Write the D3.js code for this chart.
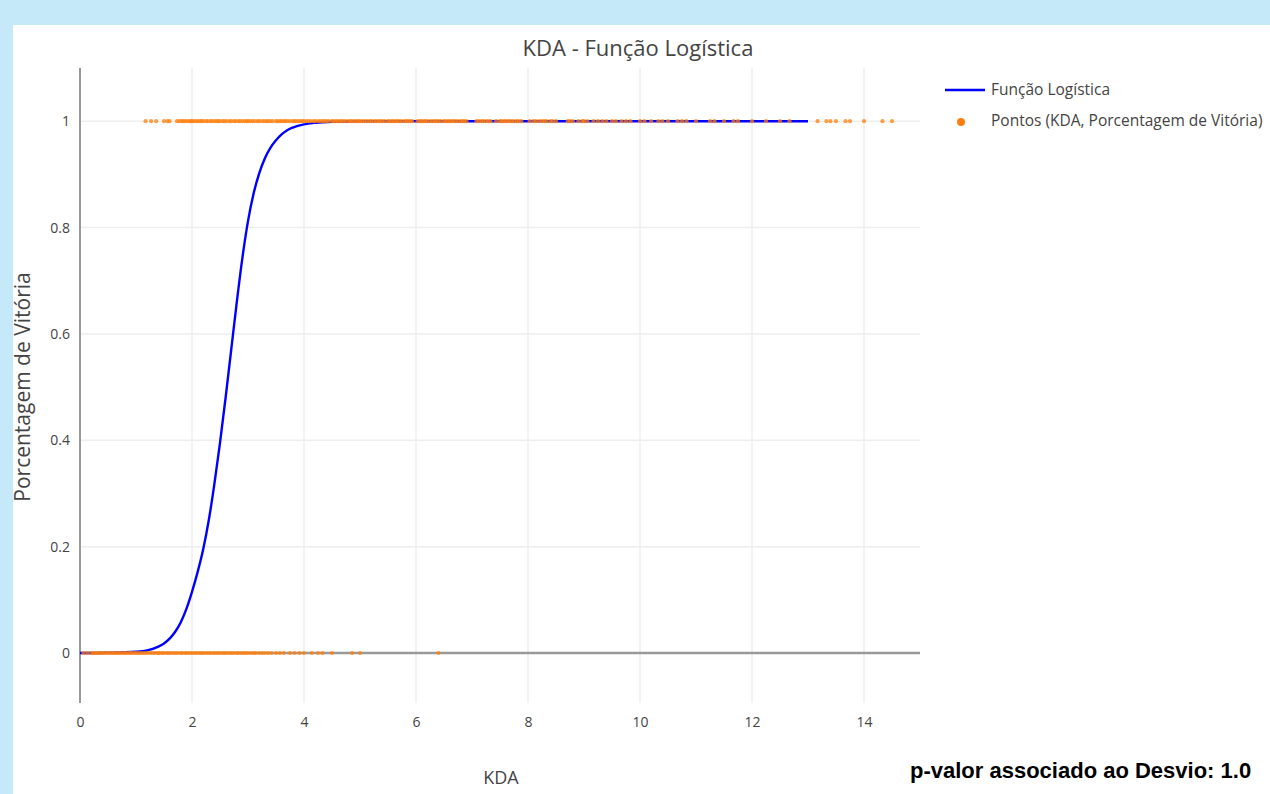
<!DOCTYPE html>
<html>
<head>
<meta charset="utf-8">
<script src="https://cdn.jsdelivr.net/npm/d3@7"></script>
<style>
  html, body { margin: 0; padding: 0; background: #c6e9f9; }
  svg { display: block; }
</style>
</head>
<body>
<svg id="chart" width="1270" height="794"></svg>
<script>
// ---- data ----
const chartTitle = "KDA - Função Logística";
const xLabel = "KDA";
const yLabel = "Porcentagem de Vitória";
const legendLabels = ["Função Logística", "Pontos (KDA, Porcentagem de Vitória)"];
const footnote = "p-valor associado ao Desvio: 1.0";
const xTicks = [0, 2, 4, 6, 8, 10, 12, 14];
const yTicks = [0, 0.2, 0.4, 0.6, 0.8, 1];

// logistic curve
const curveX = [0, 0.5, 1.0, 1.2, 1.4, 1.5, 1.6, 1.7, 1.8, 1.9, 2.0, 2.1, 2.2, 2.3, 2.4, 2.5, 2.6, 2.7, 2.8, 2.9, 3.0, 3.1, 3.2, 3.3, 3.4, 3.5, 3.6, 3.7, 3.8, 4.0, 4.2, 4.5, 5.0, 13.0];
const curveY = [0.0000, 0.0006, 0.0025, 0.005, 0.012, 0.018, 0.027, 0.040, 0.058, 0.083, 0.115, 0.152, 0.195, 0.25, 0.318, 0.395, 0.48, 0.57, 0.66, 0.743, 0.812, 0.864, 0.902, 0.93, 0.95, 0.964, 0.975, 0.983, 0.988, 0.994, 0.997, 0.999, 0.9998, 1.0];

// KDA of points with win (1) and loss (0)
const winKDA = [1.17,1.27,1.36,1.50,1.56,1.60,1.73,1.77,1.81,1.84,1.87,1.91,1.95,1.98,
2.00,2.03,2.07,2.10,2.14,2.17,2.20,2.25,2.28,2.33,2.36,2.40,2.44,2.47,2.50,2.55,2.58,2.62,2.67,2.70,2.75,2.78,2.83,2.86,2.90,2.94,2.98,
3.00,3.04,3.08,3.12,3.17,3.20,3.25,3.29,3.33,3.36,3.40,3.44,3.50,3.53,3.57,3.60,3.64,3.67,3.71,3.75,3.80,3.83,3.86,3.90,3.94,3.97,
4.00,4.04,4.08,4.12,4.17,4.20,4.25,4.29,4.33,4.36,4.40,4.44,4.50,4.53,4.57,4.60,4.64,4.67,4.71,4.75,4.80,4.83,4.86,4.90,4.94,4.97,
5.00,5.04,5.08,5.12,5.17,5.20,5.25,5.29,5.33,5.36,5.40,5.44,5.50,5.53,5.57,5.60,5.64,5.67,5.71,5.75,5.80,5.83,5.86,5.90,5.93,
6.03,6.07,6.10,6.14,6.17,6.20,6.25,6.29,6.33,6.36,6.40,6.44,6.50,6.53,6.57,6.60,6.64,6.67,6.71,6.75,6.80,6.83,6.86,6.90,
7.08,7.12,7.17,7.20,7.25,7.29,7.33,7.43,7.50,7.53,7.57,7.60,7.64,7.67,7.71,7.75,7.80,7.83,7.88,
8.03,8.10,8.14,8.20,8.25,8.29,8.33,8.40,8.44,8.50,8.71,8.75,8.80,8.90,8.97,9.00,9.06,9.17,9.25,9.33,
9.40,9.50,9.57,9.67,9.75,9.83,10.00,10.08,10.20,10.33,10.40,10.50,10.67,10.75,10.83,11.00,11.25,11.33,11.50,11.67,11.75,12.00,12.25,12.50,12.67,
13.17,13.33,13.40,13.50,13.67,13.75,14.00,14.33,14.50];
const lossKDA = [0.06,0.13,0.20,0.24,0.27,0.30,0.33,0.37,0.40,0.43,0.47,0.50,0.53,0.57,0.60,0.63,0.67,0.70,0.73,0.77,0.80,0.83,0.87,0.90,0.93,0.97,
1.00,1.04,1.08,1.12,1.16,1.20,1.25,1.29,1.33,1.38,1.40,1.43,1.47,1.50,1.55,1.58,1.62,1.67,1.71,1.75,1.80,1.83,1.88,1.92,1.96,
2.00,2.04,2.08,2.13,2.17,2.20,2.25,2.29,2.33,2.38,2.42,2.46,2.50,2.55,2.58,2.62,2.67,2.71,2.75,2.80,2.83,2.88,2.92,2.96,
3.00,3.05,3.10,3.14,3.20,3.25,3.30,3.36,3.42,3.50,3.57,3.64,3.75,3.83,3.92,4.00,4.14,4.25,4.33,4.50,4.86,5.00,6.40];

// ---- drawing ----
const svg = d3.select("#chart");
const font = "'Open Sans', verdana, arial, sans-serif";
const lineColor = "#0000ff";
const dotColor = "#ff7f0e";
const textColor = "#444";

svg.append("rect").attr("x", 13).attr("y", 25).attr("width", 1257).attr("height", 769).attr("fill", "#fff");

const plot = { left: 80, right: 920, top: 68, bottom: 703 };
const x = d3.scaleLinear().domain([0, 15]).range([plot.left, plot.right]);
const y = d3.scaleLinear().domain([-0.094, 1.1]).range([plot.bottom, plot.top]);

// gridlines
svg.append("g").selectAll("line").data(xTicks.filter(d => d !== 0)).join("line")
  .attr("x1", d => x(d)).attr("x2", d => x(d))
  .attr("y1", plot.top).attr("y2", plot.bottom)
  .attr("stroke", "#eee").attr("stroke-width", 1.5);
svg.append("g").selectAll("line").data(yTicks.filter(d => d !== 0)).join("line")
  .attr("x1", plot.left).attr("x2", plot.right)
  .attr("y1", d => y(d)).attr("y2", d => y(d))
  .attr("stroke", "#eee").attr("stroke-width", 1.5);

// zero line
svg.append("line").attr("x1", plot.left).attr("x2", plot.right)
  .attr("y1", y(0)).attr("y2", y(0)).attr("stroke", "#999").attr("stroke-width", 2.5);
// y axis line
svg.append("line").attr("x1", x(0)).attr("x2", x(0))
  .attr("y1", plot.top).attr("y2", plot.bottom).attr("stroke", "#999").attr("stroke-width", 2);

// axes (ticks via d3 axis, no domain)
const xAxis = svg.append("g").attr("transform", `translate(0,${plot.bottom})`)
  .call(d3.axisBottom(x).tickValues(xTicks).tickSize(0).tickPadding(14).tickFormat(d3.format("d")));
xAxis.select(".domain").remove();
xAxis.selectAll("text").attr("fill", textColor).style("font-family", font).style("font-size", "14px");

const yAxis = svg.append("g").attr("transform", `translate(${plot.left},0)`)
  .call(d3.axisLeft(y).tickValues(yTicks).tickSize(0).tickPadding(10).tickFormat(d => d3.format("~g")(d)));
yAxis.select(".domain").remove();
yAxis.selectAll("text").attr("fill", textColor).style("font-family", font).style("font-size", "14px");

// logistic curve
const curveData = curveX.map((v, i) => [v, curveY[i]]);
svg.append("path").datum(curveData)
  .attr("d", d3.line().x(d => x(d[0])).y(d => y(d[1])).curve(d3.curveMonotoneX))
  .attr("fill", "none").attr("stroke", lineColor).attr("stroke-width", 2.4);

// points
const pts = winKDA.map(v => [v, 1]).concat(lossKDA.map(v => [v, 0]));
svg.append("g").selectAll("circle").data(pts).join("circle")
  .attr("cx", d => x(d[0])).attr("cy", d => y(d[1])).attr("r", 2.1)
  .attr("fill", dotColor).attr("fill-opacity", 0.75);

// title
svg.append("text").attr("x", 638).attr("y", 56).attr("text-anchor", "middle")
  .attr("fill", textColor).style("font-family", font).style("font-size", "22px").text(chartTitle);

// axis titles
svg.append("text").attr("x", 501).attr("y", 784).attr("text-anchor", "middle")
  .attr("fill", textColor).style("font-family", font).style("font-size", "18px").text(xLabel);
svg.append("text").attr("transform", "translate(30,387) rotate(-90)").attr("text-anchor", "middle")
  .attr("fill", textColor).style("font-family", font).style("font-size", "21px").text(yLabel);

// legend
const lg = svg.append("g");
lg.append("line").attr("x1", 945).attr("x2", 985).attr("y1", 90).attr("y2", 90)
  .attr("stroke", lineColor).attr("stroke-width", 2.5);
lg.append("circle").attr("cx", 961).attr("cy", 122).attr("r", 4).attr("fill", dotColor);
lg.selectAll("text").data(legendLabels).join("text")
  .attr("x", 991).attr("y", (d, i) => 95 + i * 31)
  .attr("fill", textColor).style("font-family", font).style("font-size", "15.5px").text(d => d);

// footnote
svg.append("text").attr("x", 910).attr("y", 778)
  .attr("fill", "#000").style("font-family", "'Liberation Sans', Arial, sans-serif")
  .style("font-weight", "bold").style("font-size", "22px").text(footnote);
</script>
</body>
</html>
